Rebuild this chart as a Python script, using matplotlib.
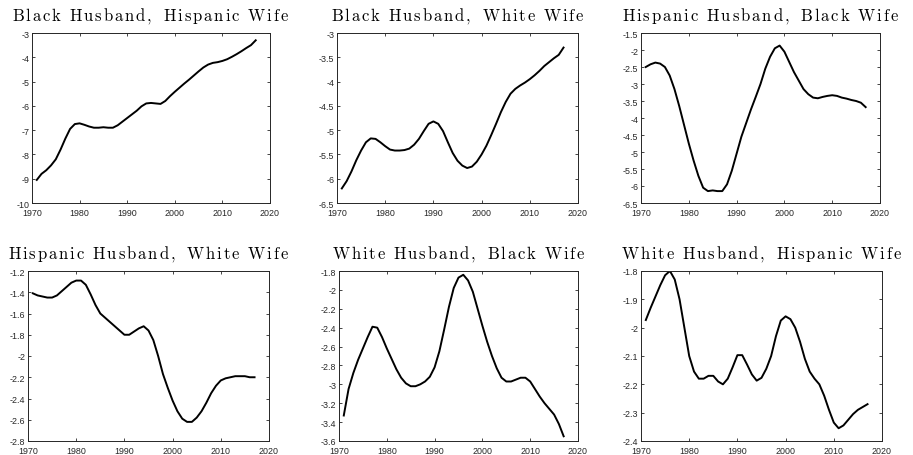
import numpy as np
import matplotlib.pyplot as plt
from matplotlib.ticker import FormatStrFormatter

plt.rcParams['mathtext.fontset'] = 'cm'
plt.rcParams['axes.unicode_minus'] = False
plt.rcParams['font.family'] = 'Liberation Sans'

years = np.arange(1971, 2018)

# log odds of intermarriage by couple type, 1971-2017
black_hisp = [-9.05, -8.8, -8.65, -8.45, -8.2, -7.8, -7.35, -6.95, -6.75, -6.72,
              -6.78, -6.85, -6.9, -6.9, -6.88, -6.9, -6.9, -6.8, -6.65, -6.5,
              -6.35, -6.2, -6.02, -5.9, -5.88, -5.9, -5.92, -5.8, -5.6, -5.42,
              -5.25, -5.08, -4.92, -4.75, -4.58, -4.42, -4.3, -4.23, -4.2, -4.15,
              -4.08, -3.98, -3.87, -3.75, -3.62, -3.5, -3.3]
black_white = [-6.2, -6.05, -5.85, -5.62, -5.42, -5.25, -5.17, -5.18, -5.25, -5.33,
               -5.4, -5.42, -5.42, -5.41, -5.38, -5.3, -5.18, -5.02, -4.87, -4.82,
               -4.87, -5.02, -5.25, -5.47, -5.63, -5.73, -5.78, -5.75, -5.65, -5.5,
               -5.32, -5.1, -4.87, -4.63, -4.42, -4.25, -4.15, -4.08, -4.02, -3.95,
               -3.87, -3.78, -3.68, -3.6, -3.52, -3.45, -3.3]
hisp_black = [-2.5, -2.42, -2.37, -2.4, -2.5, -2.75, -3.15, -3.65, -4.2, -4.75,
              -5.25, -5.7, -6.05, -6.15, -6.13, -6.15, -6.15, -5.95, -5.55, -5.05,
              -4.55, -4.15, -3.75, -3.38, -3.0, -2.55, -2.2, -1.95, -1.87, -2.05,
              -2.35, -2.65, -2.9, -3.15, -3.3, -3.4, -3.42, -3.38, -3.35, -3.33,
              -3.35, -3.4, -3.43, -3.47, -3.5, -3.55, -3.68]
hisp_white = [-1.41, -1.43, -1.44, -1.45, -1.45, -1.43, -1.39, -1.35, -1.31, -1.29,
              -1.29, -1.33, -1.42, -1.52, -1.6, -1.64, -1.68, -1.72, -1.76, -1.8,
              -1.8, -1.77, -1.74, -1.72, -1.76, -1.85, -2.0, -2.17, -2.3, -2.42,
              -2.52, -2.59, -2.62, -2.62, -2.58, -2.52, -2.44, -2.35, -2.28, -2.23,
              -2.21, -2.2, -2.19, -2.19, -2.19, -2.2, -2.2]
white_black = [-3.33, -3.05, -2.88, -2.74, -2.62, -2.5, -2.39, -2.4, -2.5, -2.62,
               -2.73, -2.84, -2.93, -2.99, -3.02, -3.02, -3.0, -2.97, -2.92, -2.82,
               -2.65, -2.42, -2.18, -1.98, -1.87, -1.84, -1.9, -2.02, -2.2, -2.38,
               -2.55, -2.7, -2.83, -2.93, -2.97, -2.97, -2.95, -2.93, -2.93, -2.97,
               -3.05, -3.13, -3.2, -3.26, -3.32, -3.42, -3.55]
white_hisp = [-1.973, -1.93, -1.89, -1.85, -1.815, -1.8, -1.83, -1.9, -2.0, -2.1,
              -2.155, -2.18, -2.18, -2.17, -2.17, -2.19, -2.2, -2.18, -2.14, -2.097,
              -2.097, -2.13, -2.165, -2.187, -2.177, -2.145, -2.1, -2.03, -1.975, -1.96,
              -1.97, -2.0, -2.05, -2.11, -2.155, -2.18, -2.2, -2.24, -2.29, -2.335,
              -2.355, -2.345, -2.325, -2.305, -2.29, -2.28, -2.27]

titles = ['Black Husband, Hispanic Wife', 'Black Husband, White Wife',
          'Hispanic Husband, Black Wife', 'Hispanic Husband, White Wife',
          'White Husband, Black Wife', 'White Husband, Hispanic Wife']
series = [black_hisp, black_white, hisp_black, hisp_white, white_black, white_hisp]
ylims = [(-10, -3, 1), (-6.5, -3, 0.5), (-6.5, -1.5, 0.5),
         (-2.8, -1.2, 0.2), (-3.6, -1.8, 0.2), (-2.4, -1.8, 0.1)]

W, H = 913, 456
# left, right, top, bottom in pixels
boxes = [(32, 270, 34, 204), (337, 578, 34, 204), (641, 880, 34, 204),
         (28, 269, 272, 442), (339, 578, 272, 442), (641, 882, 272, 442)]


def spaced(s, gap=0.13):
    # letter-spaced roman title in mathtext
    out = []
    for ch in s:
        if ch == ' ':
            out.append(r'\ ')
        else:
            out.append(ch)
    return r'$\mathrm{' + (r'\hspace{%g}' % gap).join(out) + '}$'


fig = plt.figure(figsize=(W / 100, H / 100), dpi=100)
dark = '#262626'

for i in range(6):
    l, r, t, b = boxes[i]
    ax = fig.add_axes([l / W, 1 - b / H, (r - l) / W, (b - t) / H])
    ax.plot(years, series[i], color='black', lw=1.4)
    lo, hi, step = ylims[i]
    ax.set_xlim(1970, 2020)
    ax.set_ylim(lo, hi)
    ax.set_xticks(np.arange(1970, 2021, 10))
    ax.set_yticks(np.arange(lo, hi + step / 2, step))
    ax.yaxis.set_major_formatter(FormatStrFormatter('%g'))
    ax.tick_params(direction='in', length=2.5, width=0.6, labelsize=6.4,
                   colors=dark, top=True, right=True)
    ax.tick_params(axis='x', pad=3.5)
    ax.tick_params(axis='y', pad=2)
    for s in ax.spines.values():
        s.set_color(dark)
        s.set_linewidth(0.7)
    ax.set_title(spaced(titles[i]), fontsize=12, pad=10)

fig.savefig('out.png', dpi=100)
